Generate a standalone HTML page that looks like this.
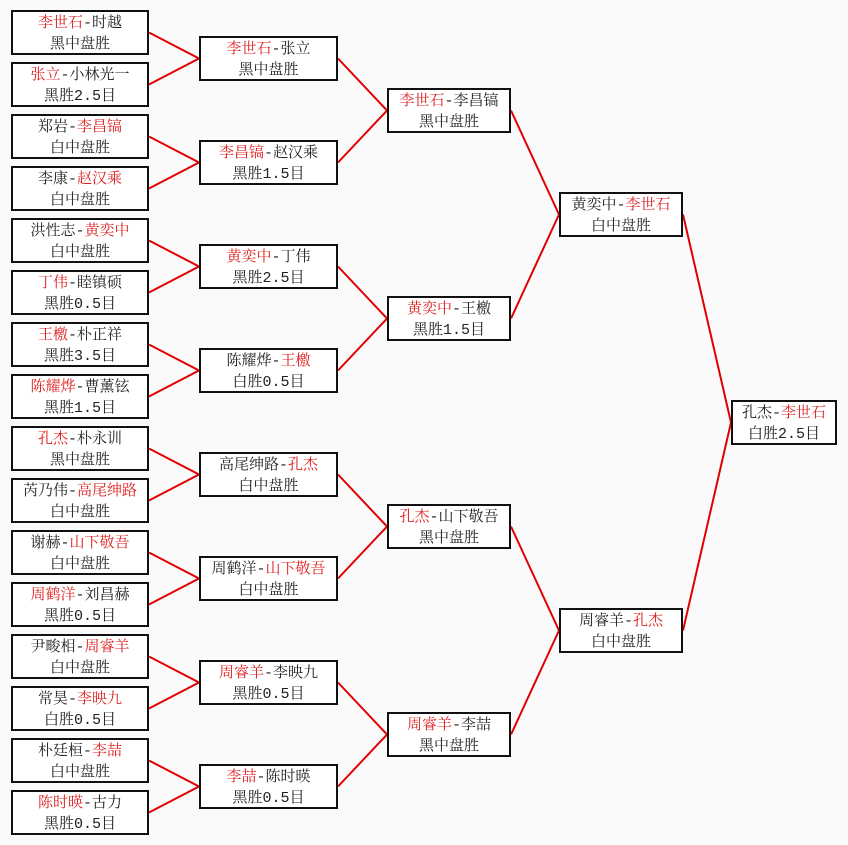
<!DOCTYPE html>
<html><head><meta charset="utf-8"><style>
body{margin:0;width:848px;height:845px;background:#fafafa;position:relative;overflow:hidden;font-family:"Liberation Mono","Noto Serif CJK SC",serif;}
.b{position:absolute;box-sizing:border-box;border:2px solid #111;background:#fff;font-size:15px;line-height:21px;text-align:center;color:#222;padding-top:1px;height:45px;}
.r{color:#e02020}
svg{position:absolute;left:0;top:0}
</style></head><body>
<svg width="848" height="845">
<g stroke="#e00000" stroke-width="2" fill="none">
<path d="M149 32.5L199 58.5L149 84.5M149 136.5L199 162.5L149 188.5M149 240.5L199 266.5L149 292.5M149 344.5L199 370.5L149 396.5M149 448.5L199 474.5L149 500.5M149 552.5L199 578.5L149 604.5M149 656.5L199 682.5L149 708.5M149 760.5L199 786.5L149 812.5"/>
<path d="M338 58.5L387 110.5L338 162.5M338 266.5L387 318.5L338 370.5M338 474.5L387 526.5L338 578.5M338 682.5L387 734.5L338 786.5"/>
<path d="M511 110.5L559 214.5L511 318.5M511 526.5L559 630.5L511 734.5"/>
<path d="M683 214.5L731 422.5L683 630.5"/>
</g></svg>
<div class="b" style="left:11px;top:10px;width:138px"><span class="r">李世石</span>-时越<br>黑中盘胜</div>
<div class="b" style="left:11px;top:62px;width:138px"><span class="r">张立</span>-小林光一<br>黑胜2.5目</div>
<div class="b" style="left:11px;top:114px;width:138px">郑岩-<span class="r">李昌镐</span><br>白中盘胜</div>
<div class="b" style="left:11px;top:166px;width:138px">李康-<span class="r">赵汉乘</span><br>白中盘胜</div>
<div class="b" style="left:11px;top:218px;width:138px">洪性志-<span class="r">黄奕中</span><br>白中盘胜</div>
<div class="b" style="left:11px;top:270px;width:138px"><span class="r">丁伟</span>-睦镇硕<br>黑胜0.5目</div>
<div class="b" style="left:11px;top:322px;width:138px"><span class="r">王檄</span>-朴正祥<br>黑胜3.5目</div>
<div class="b" style="left:11px;top:374px;width:138px"><span class="r">陈耀烨</span>-曹薰铉<br>黑胜1.5目</div>
<div class="b" style="left:11px;top:426px;width:138px"><span class="r">孔杰</span>-朴永训<br>黑中盘胜</div>
<div class="b" style="left:11px;top:478px;width:138px">芮乃伟-<span class="r">高尾绅路</span><br>白中盘胜</div>
<div class="b" style="left:11px;top:530px;width:138px">谢赫-<span class="r">山下敬吾</span><br>白中盘胜</div>
<div class="b" style="left:11px;top:582px;width:138px"><span class="r">周鹤洋</span>-刘昌赫<br>黑胜0.5目</div>
<div class="b" style="left:11px;top:634px;width:138px">尹畯相-<span class="r">周睿羊</span><br>白中盘胜</div>
<div class="b" style="left:11px;top:686px;width:138px">常昊-<span class="r">李映九</span><br>白胜0.5目</div>
<div class="b" style="left:11px;top:738px;width:138px">朴廷桓-<span class="r">李喆</span><br>白中盘胜</div>
<div class="b" style="left:11px;top:790px;width:138px"><span class="r">陈时暎</span>-古力<br>黑胜0.5目</div>

<div class="b" style="left:199px;top:36px;width:139px"><span class="r">李世石</span>-张立<br>黑中盘胜</div>
<div class="b" style="left:199px;top:140px;width:139px"><span class="r">李昌镐</span>-赵汉乘<br>黑胜1.5目</div>
<div class="b" style="left:199px;top:244px;width:139px"><span class="r">黄奕中</span>-丁伟<br>黑胜2.5目</div>
<div class="b" style="left:199px;top:348px;width:139px">陈耀烨-<span class="r">王檄</span><br>白胜0.5目</div>
<div class="b" style="left:199px;top:452px;width:139px">高尾绅路-<span class="r">孔杰</span><br>白中盘胜</div>
<div class="b" style="left:199px;top:556px;width:139px">周鹤洋-<span class="r">山下敬吾</span><br>白中盘胜</div>
<div class="b" style="left:199px;top:660px;width:139px"><span class="r">周睿羊</span>-李映九<br>黑胜0.5目</div>
<div class="b" style="left:199px;top:764px;width:139px"><span class="r">李喆</span>-陈时暎<br>黑胜0.5目</div>

<div class="b" style="left:387px;top:88px;width:124px"><span class="r">李世石</span>-李昌镐<br>黑中盘胜</div>
<div class="b" style="left:387px;top:296px;width:124px"><span class="r">黄奕中</span>-王檄<br>黑胜1.5目</div>
<div class="b" style="left:387px;top:504px;width:124px"><span class="r">孔杰</span>-山下敬吾<br>黑中盘胜</div>
<div class="b" style="left:387px;top:712px;width:124px"><span class="r">周睿羊</span>-李喆<br>黑中盘胜</div>

<div class="b" style="left:559px;top:192px;width:124px">黄奕中-<span class="r">李世石</span><br>白中盘胜</div>
<div class="b" style="left:559px;top:608px;width:124px">周睿羊-<span class="r">孔杰</span><br>白中盘胜</div>

<div class="b" style="left:731px;top:400px;width:106px">孔杰-<span class="r">李世石</span><br>白胜2.5目</div>
</body></html>
